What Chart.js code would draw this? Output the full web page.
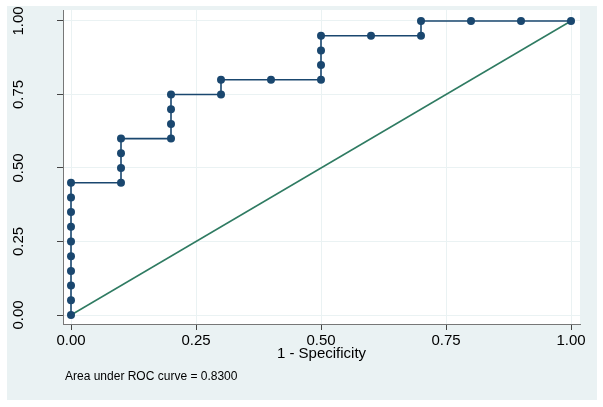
<!DOCTYPE html>
<html>
<head>
<meta charset="utf-8">
<script src="https://cdn.jsdelivr.net/npm/chart.js@4/dist/chart.umd.min.js"></script>
<style>
  html, body { margin: 0; padding: 0; background: #ffffff; }
  #wrap { width: 603px; height: 407px; }
</style>
</head>
<body>
<div id="wrap"><canvas id="c" width="603" height="407"></canvas></div>
<script>
// ---- data ----
const fpr = [0,0,0,0,0,0,0,0,0,0,0.1,0.1,0.1,0.1,0.2,0.2,0.2,0.2,0.3,0.3,0.4,0.5,0.5,0.5,0.5,0.6,0.7,0.7,0.8,0.9,1.0];
const tpr = [0,0.05,0.1,0.15,0.2,0.25,0.3,0.35,0.4,0.45,0.45,0.5,0.55,0.6,0.6,0.65,0.7,0.75,0.75,0.8,0.8,0.8,0.85,0.9,0.95,0.95,0.95,1,1,1,1];
const refX = [0, 1];
const refY = [0, 1];
const xTicks = [0, 0.25, 0.5, 0.75, 1];
const yTicks = [0, 0.25, 0.5, 0.75, 1];
const xTitle = '1 - Specificity';
const noteText = 'Area under ROC curve = 0.8300';

const FONT = '"Liberation Sans", Arial, Helvetica, sans-serif';
const BG = '#eaf2f3';

const rocPoints = fpr.map((x, i) => ({ x: x, y: tpr[i] }));
const refPoints = refX.map((x, i) => ({ x: x, y: refY[i] }));

const stataPlugin = {
  id: 'stata',
  beforeDraw(chart) {
    const ctx = chart.ctx;
    const a = chart.chartArea;
    ctx.save();
    ctx.fillStyle = '#ffffff';
    ctx.fillRect(0, 0, chart.width, chart.height);
    ctx.fillStyle = BG;
    ctx.fillRect(7, 6, 590, 394);
    ctx.fillStyle = '#ffffff';
    ctx.fillRect(a.left, a.top, a.right - a.left, a.bottom - a.top);
    ctx.restore();
  },
  afterDraw(chart) {
    const ctx = chart.ctx;
    const ys = chart.scales.y;
    ctx.save();
    ctx.fillStyle = '#000000';
    ctx.font = '15px ' + FONT;
    ctx.textAlign = 'center';
    ctx.textBaseline = 'alphabetic';
    yTicks.forEach(v => {
      const py = ys.getPixelForValue(v);
      ctx.save();
      ctx.translate(17, py);
      ctx.rotate(-Math.PI / 2);
      ctx.fillText(v.toFixed(2), 0, 5.5);
      ctx.restore();
    });
    ctx.font = '12px ' + FONT;
    ctx.textAlign = 'left';
    ctx.fillText(noteText, 65, 380);
    ctx.restore();
  }
};

new Chart(document.getElementById('c'), {
  type: 'scatter',
  data: {
    datasets: [
      {
        label: 'ROC',
        data: rocPoints,
        showLine: true,
        borderColor: '#1a476f',
        backgroundColor: '#1a476f',
        borderWidth: 1.6,
        pointRadius: 4,
        pointBorderWidth: 0,
        pointBackgroundColor: '#1a476f',
        tension: 0,
        order: 0
      },
      {
        label: 'Reference',
        data: refPoints,
        showLine: true,
        borderColor: '#2f7b62',
        backgroundColor: '#2f7b62',
        borderWidth: 1.5,
        pointRadius: 0,
        tension: 0,
        order: 1
      }
    ]
  },
  options: {
    responsive: false,
    devicePixelRatio: 1,
    animation: false,
    layout: { padding: { left: 0, top: 10, right: 23, bottom: 40 } },
    plugins: {
      legend: { display: false },
      tooltip: { enabled: false },
      title: { display: false }
    },
    scales: {
      x: {
        type: 'linear',
        position: 'bottom',
        min: -0.016,
        max: 1.018,
        afterBuildTicks: s => { s.ticks = xTicks.map(v => ({ value: v })); },
        afterFit: s => { s.height = 43; },
        ticks: {
          color: '#000000',
          font: { family: FONT, size: 15 },
          padding: 2,
          maxRotation: 0,
          minRotation: 0,
          callback: v => Number(v).toFixed(2)
        },
        grid: {
          color: BG,
          lineWidth: 1,
          drawTicks: true,
          tickLength: 6,
          tickColor: '#444444',
          tickWidth: 1
        },
        border: { display: true, color: '#777777', width: 1 },
        title: {
          display: true,
          text: xTitle,
          color: '#000000',
          font: { family: FONT, size: 15 },
          padding: { top: 4, bottom: 4 }
        }
      },
      y: {
        type: 'linear',
        position: 'left',
        min: -0.0306,
        max: 1.0374,
        afterBuildTicks: s => { s.ticks = yTicks.map(v => ({ value: v })); },
        afterFit: s => { s.width = 63; },
        ticks: { display: false },
        grid: {
          color: BG,
          lineWidth: 1,
          drawTicks: true,
          tickLength: 6,
          tickColor: '#444444',
          tickWidth: 1
        },
        border: { display: true, color: '#777777', width: 1 }
      }
    }
  },
  plugins: [stataPlugin]
});
</script>
</body>
</html>
